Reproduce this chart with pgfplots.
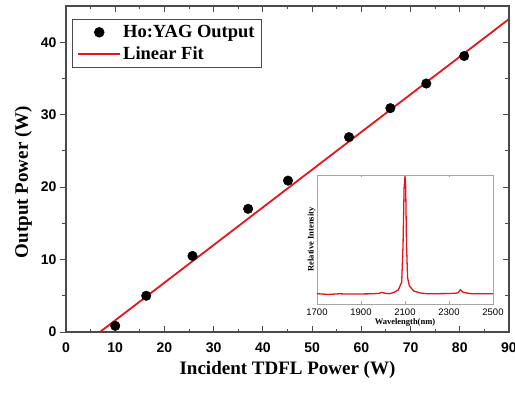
\documentclass[border=0pt]{standalone}
\usepackage{fontspec}
\setmainfont{Liberation Serif}
\newfontfamily\arialf{Liberation Sans}
\usepackage{pgfplots}
\pgfplotsset{compat=1.18}
\definecolor{axgray}{HTML}{4A4A4A}
\definecolor{fitred}{HTML}{E8141B}
\begin{document}
\begin{tikzpicture}
\useasboundingbox (-66pt,-62pt) rectangle (449pt,332pt);
\begin{axis}[
  scale only axis, width=443pt, height=326pt,
  xmin=0, xmax=90, ymin=0, ymax=45,
  xtick={0,10,...,90}, ytick={0,10,...,40},
  minor tick num=1,
  axis line style={axgray, line width=1.1pt},
  every tick/.style={axgray, line width=1pt},
  major tick length=6pt, minor tick length=3.5pt,
  xtick pos=bottom, ytick pos=left,
  xtick align=inside, ytick align=outside,
  /pgf/number format/assume math mode=true,
  ticklabel style={font=\arialf\bfseries\fontsize{14}{16}\selectfont, text=black},
  xticklabel style={yshift=-7pt},
  xlabel={Incident TDFL Power (W)},
  ylabel={Output Power (W)},
  label style={font=\bfseries\fontsize{19}{22}\selectfont},
  xlabel style={yshift=-2pt},
  ylabel style={at={(ticklabel cs:0.46)}, yshift=2pt},
  legend style={at={(axis description cs:0.0135,0.96)}, anchor=north west,
    draw=axgray, line width=0.8pt, font=\bfseries\fontsize{18.5}{21}\selectfont,
    row sep=3.5pt, inner xsep=5pt, inner ysep=4pt},
  legend cell align=left,
  legend image code/.code={\draw[mark repeat=2,mark phase=2,#1] plot coordinates {(0pt,0pt)(21pt,0pt)(42pt,0pt)};},
]
\addplot[only marks, mark=*, mark size=4.8pt, black] coordinates {
(10,0.85) (16.3,5.0) (25.7,10.5) (37,17.0) (45.1,20.9) (57.5,26.9) (65.9,30.9) (73.2,34.3) (80.9,38.1)
};
\addlegendentry{Ho:YAG Output}
\addplot[fitred, line width=1.8pt] coordinates {(6.9,0) (90,43.2)};
\addlegendentry{Linear Fit}
\end{axis}
\begin{axis}[
  scale only axis, width=443pt, height=326pt,
  xmin=0, xmax=90, ymin=0, ymax=45,
  xtick={0,10,...,90}, ytick={0,10,...,40},
  minor tick num=1,
  axis line style={axgray, line width=1.1pt},
  every tick/.style={axgray, line width=1pt},
  major tick length=6pt, minor tick length=3.5pt,
  xtick pos=top, ytick pos=right, tick align=inside,
  xticklabels={}, yticklabels={},
]
\end{axis}
\begin{axis}[
  at={(251pt,28pt)}, anchor=south west,
  scale only axis, width=176pt, height=129pt,
  xmin=1700, xmax=2500, ymin=0, ymax=1,
  xtick={1700,1900,2100,2300,2500}, ytick=\empty,
  minor tick num=0,
  axis background/.style={fill=white},
  axis line style={gray!70, line width=0.6pt},
  every tick/.style={gray!70, line width=0.6pt},
  major tick length=2.5pt, tick align=inside,
  /pgf/number format/1000 sep={},
  /pgf/number format/assume math mode=true,
  ticklabel style={font=\arialf\fontsize{9.5}{11}\selectfont, text=black},
  xticklabel style={yshift=-1pt},
  xlabel={Wavelength(nm)}, ylabel={Relative Intensity},
  label style={font=\bfseries\fontsize{8.5}{9}\selectfont},
  xlabel style={yshift=4pt},
  ylabel style={yshift=-2pt},
]
\addplot[fitred, line width=1.3pt] coordinates {
(1700,0.08) (1750,0.074) (1800,0.079) (1850,0.077) (1900,0.078) (1950,0.079) (1980,0.082) (1995,0.09) (2010,0.083) (2030,0.08) (2050,0.09) (2070,0.11) (2085,0.17) (2091,0.45) (2096,0.9) (2100,0.99) (2103,0.92) (2107,0.45) (2112,0.2) (2120,0.14) (2140,0.1) (2170,0.085) (2200,0.08) (2250,0.08) (2300,0.081) (2340,0.085) (2352,0.11) (2365,0.09) (2400,0.08) (2450,0.079) (2500,0.08)
};
\end{axis}
\end{tikzpicture}
\end{document}
